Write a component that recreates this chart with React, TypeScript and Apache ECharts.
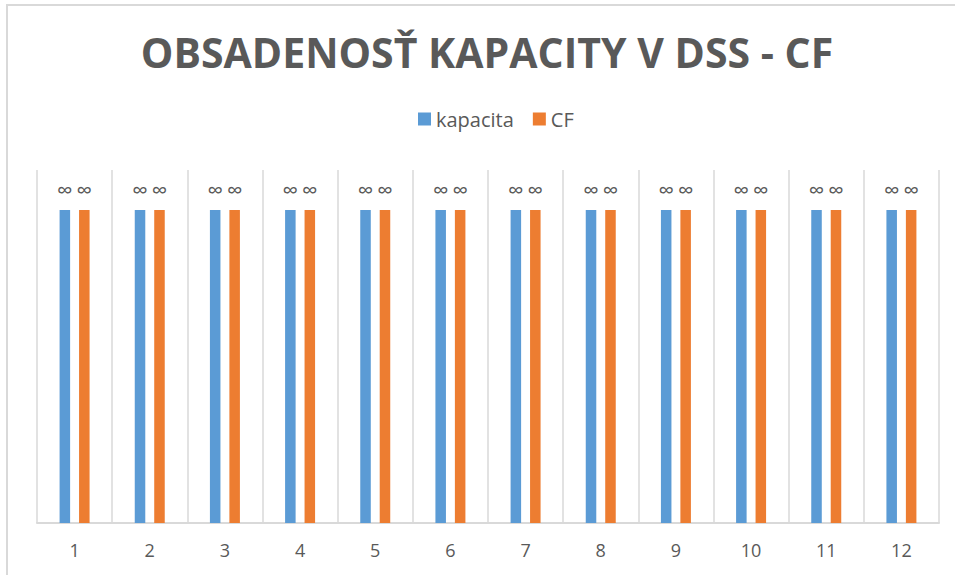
import React, { useEffect, useRef } from "react";
import * as echarts from "echarts";

const categories = ["1", "2", "3", "4", "5", "6", "7", "8", "9", "10", "11", "12"];
const kapacitaValues = [1, 1, 1, 1, 1, 1, 1, 1, 1, 1, 1, 1];
const cfValues = [1, 1, 1, 1, 1, 1, 1, 1, 1, 1, 1, 1];
const kapacitaLabels = ["∞", "∞", "∞", "∞", "∞", "∞", "∞", "∞", "∞", "∞", "∞", "∞"];
const cfLabels = ["∞", "∞", "∞", "∞", "∞", "∞", "∞", "∞", "∞", "∞", "∞", "∞"];
const seriesNames = ["kapacita", "CF"];
const titleText = "OBSADENOSŤ KAPACITY V DSS - CF";

const FONT = "'Open Sans', 'Noto Sans', sans-serif";
const TEXT = "#595959";
const GRID = "#d9d9d9";

export default function App() {
  const ref = useRef<HTMLDivElement>(null);
  useEffect(() => {
    if (!ref.current) return;
    const chart = echarts.init(ref.current, null, { renderer: "svg" });
    const labelStyle = {
      show: true,
      position: "top" as const,
      distance: 10,
      color: TEXT,
      fontSize: 22,
      fontFamily: FONT,
    };
    chart.setOption({
      animation: false,
      backgroundColor: "#ffffff",
      textStyle: { fontFamily: FONT },
      title: {
        text: titleText,
        left: 482,
        textAlign: "center",
        top: 26,
        textStyle: { color: TEXT, fontSize: 41, fontWeight: "bold", fontFamily: FONT },
      },
      legend: {
        left: 413,
        top: 104,
        itemWidth: 13,
        itemHeight: 13,
        itemGap: 19,
        icon: "rect",
        textStyle: { color: TEXT, fontSize: 20, fontFamily: FONT },
        data: seriesNames,
      },
      graphic: [
        { type: "line", shape: { x1: 6, y1: 5, x2: 955, y2: 5 }, style: { stroke: GRID, lineWidth: 2 } },
        { type: "line", shape: { x1: 7, y1: 4, x2: 7, y2: 575 }, style: { stroke: GRID, lineWidth: 2 } },
      ],
      grid: { left: 37, right: 16, top: 170, bottom: 52, containLabel: false },
      xAxis: {
        type: "category",
        data: categories,
        boundaryGap: true,
        axisLine: { show: true, lineStyle: { color: GRID, width: 2 } },
        axisTick: { show: false },
        axisLabel: { color: TEXT, fontSize: 18, margin: 18, fontFamily: FONT, interval: 0 },
        splitLine: { show: true, interval: 0, lineStyle: { color: GRID, width: 1.5 } },
      },
      yAxis: {
        type: "value",
        min: 0,
        max: 1.128,
        show: false,
        splitLine: { show: false },
      },
      series: [
        {
          name: seriesNames[0],
          type: "bar",
          data: kapacitaValues,
          barWidth: "14%",
          barGap: "85%",
          itemStyle: { color: "#5B9BD5" },
          label: { ...labelStyle, formatter: (p: any) => kapacitaLabels[p.dataIndex] },
        },
        {
          name: seriesNames[1],
          type: "bar",
          data: cfValues,
          barWidth: "14%",
          barGap: "85%",
          itemStyle: { color: "#ED7D31" },
          label: { ...labelStyle, formatter: (p: any) => cfLabels[p.dataIndex] },
        },
      ],
    });
    return () => chart.dispose();
  }, []);
  return (
    <div
      ref={ref}
      style={{ position: "fixed", left: 0, top: 0, width: 955, height: 575, background: "#fff" }}
    />
  );
}
